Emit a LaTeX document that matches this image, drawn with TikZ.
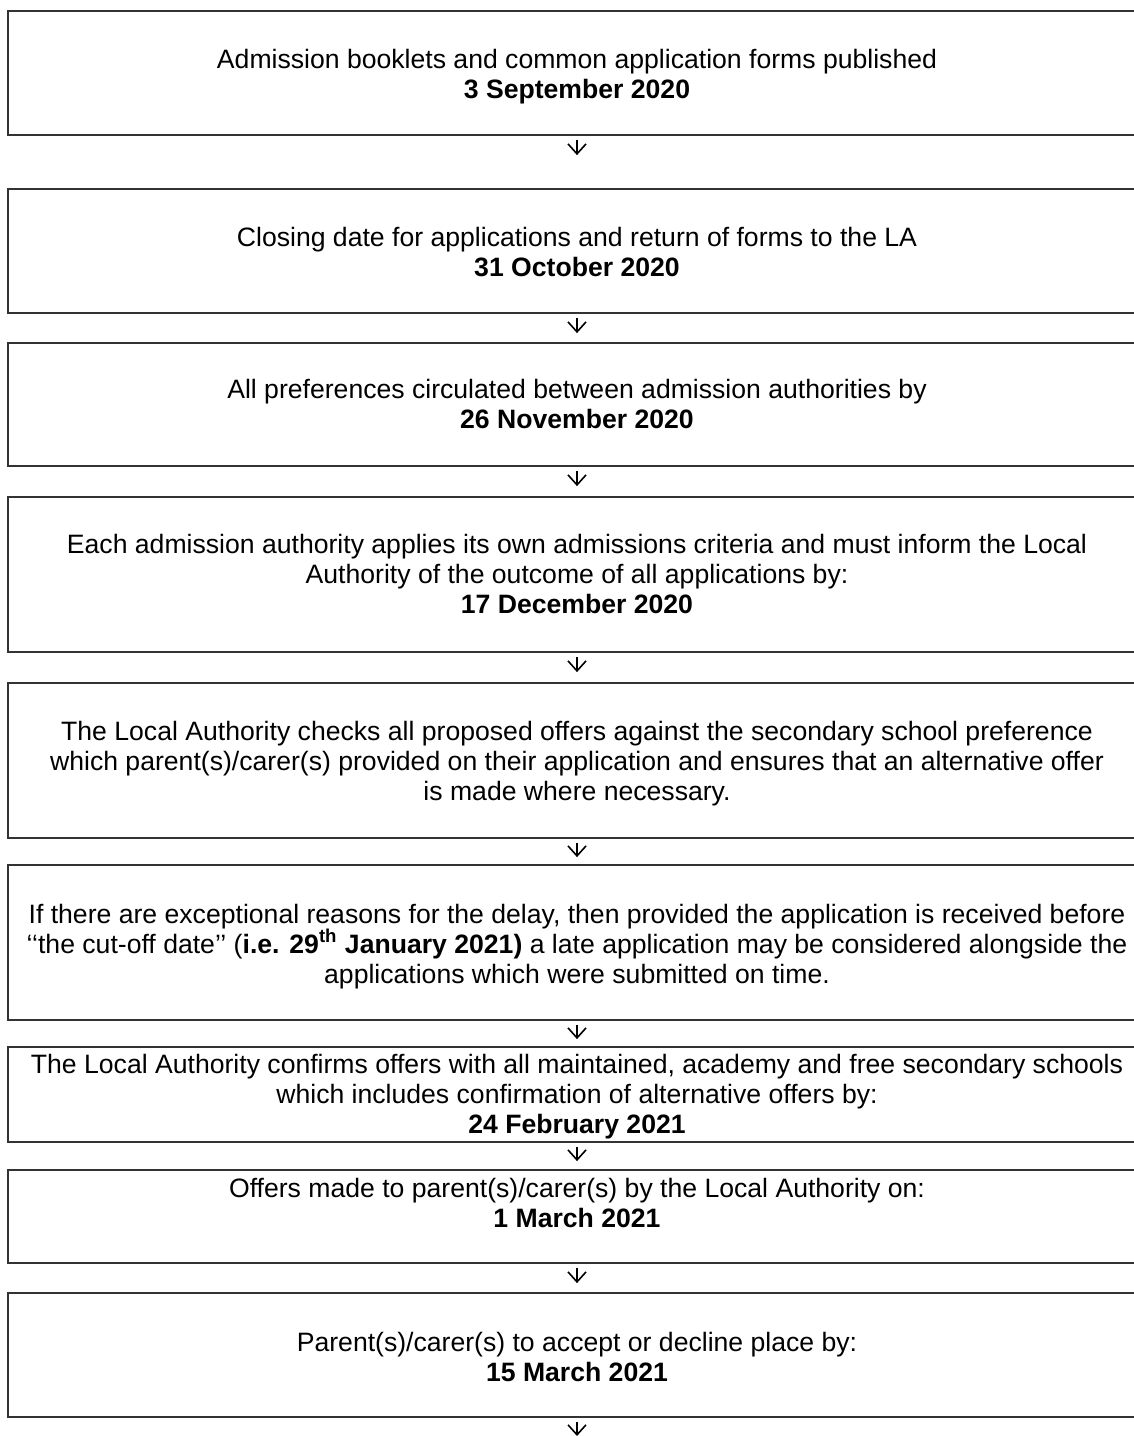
\documentclass[tikz,border=0pt]{standalone}
\usepackage{fontspec}
\setmainfont{Liberation Sans}
\usetikzlibrary{arrows.meta}
\begin{document}
\begin{tikzpicture}[x=0.5pt,y=-0.5pt,
  box/.style={draw=black!80, line width=0.9pt, minimum width=569pt, inner sep=0pt},
  txt/.style={font=\fontsize{13.3pt}{15pt}\selectfont, align=center, anchor=base, inner sep=0pt},
  arr/.style={draw=black, line width=0.8pt, -{Straight Barb[length=5pt,width=9pt,line width=0.8pt]}}]
\useasboundingbox (0,0) rectangle (1134,1436);
\clip (0,0) rectangle (1134,1436);
% boxes
\node[box, minimum height=62pt]   (b1) at (577,73) {};
\node[box, minimum height=62pt]   (b2) at (577,251) {};
\node[box, minimum height=61.5pt] (b3) at (577,404.5) {};
\node[box, minimum height=77.5pt] (b4) at (577,574.5) {};
\node[box, minimum height=77.5pt] (b5) at (577,760.5) {};
\node[box, minimum height=77.5pt] (b6) at (577,942.5) {};
\node[box, minimum height=47.5pt] (b7) at (577,1094.5) {};
\node[box, minimum height=46.5pt] (b8) at (577,1216.5) {};
\node[box, minimum height=62pt]   (b9) at (577,1355) {};
\coordinate (end) at (577,1436);
% texts (anchor base = baseline of the last line)
\node[txt] (t1) at (577,98) {Admission booklets and common application forms published\\\textbf{3 September 2020}};
\node[txt] (t2) at (577,276) {Closing date for applications and return of forms to the LA\\\textbf{31 October 2020}};
\node[txt] (t3) at (577,428) {All preferences circulated between admission authorities by\\\textbf{26 November 2020}};
\node[txt] (t4) at (577,613) {Each admission authority applies its own admissions criteria and must inform the Local\\Authority of the outcome of all applications by:\\\textbf{17 December 2020}};
\node[txt] (t5) at (577,800) {The Local Authority checks all proposed offers against the secondary school preference\\which parent(s)/carer(s) provided on their application and ensures that an alternative offer\\is made where necessary.};
\node[txt] (t6) at (577,983) {If there are exceptional reasons for the delay, then provided the application is received before\\‘‘the cut-off date’’ (\textbf{i.e. 29\textsuperscript{th} January 2021)} a late application may be considered alongside the\\applications which were submitted on time.};
\node[txt] (t7) at (577,1133) {The Local Authority confirms offers with all maintained, academy and free secondary schools\\which includes confirmation of alternative offers by:\\\textbf{24 February 2021}};
\node[txt] (t8) at (577,1227) {Offers made to parent(s)/carer(s) by the Local Authority on:\\\textbf{1 March 2021}};
\node[txt] (t9) at (577,1381) {Parent(s)/carer(s) to accept or decline place by:\\\textbf{15 March 2021}};
% arrows
\draw[arr, shorten <=2pt, shorten >=16.5pt] (b1.south) -- (b2.north);
\draw[arr, shorten <=2pt, shorten >=4.5pt] (b2.south) -- (b3.north);
\draw[arr, shorten <=2pt, shorten >=5pt] (b3.south) -- (b4.north);
\draw[arr, shorten <=2pt, shorten >=5pt] (b4.south) -- (b5.north);
\draw[arr, shorten <=2pt, shorten >=3.5pt] (b5.south) -- (b6.north);
\draw[arr, shorten <=2pt, shorten >=3.5pt] (b6.south) -- (b7.north);
\draw[arr, shorten <=2pt, shorten >=4pt] (b7.south) -- (b8.north);
\draw[arr, shorten <=2pt, shorten >=4.5pt] (b8.south) -- (b9.north);
\draw[arr, shorten <=2pt] (b9.south) -- (end);
\end{tikzpicture}
\end{document}
